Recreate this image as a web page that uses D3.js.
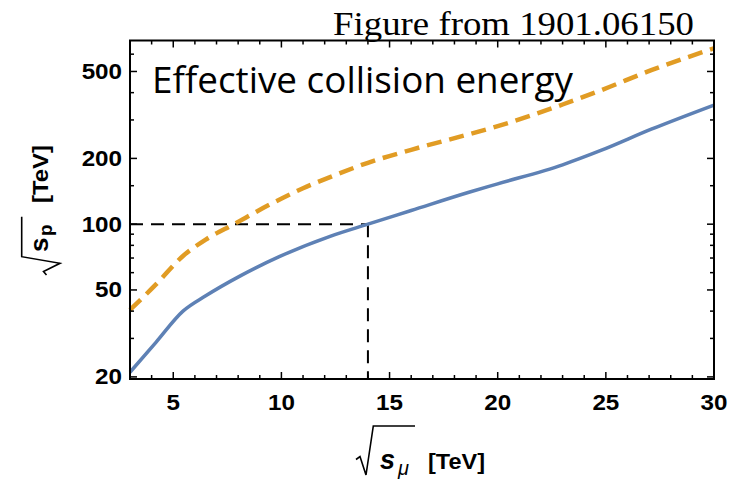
<!DOCTYPE html>
<html>
<head>
<meta charset="utf-8">
<script src="https://cdn.jsdelivr.net/npm/d3@7"></script>
<style>
  body { margin: 0; background: #fff; }
  text { font-family: "Liberation Sans", Arial, sans-serif; }
</style>
</head>
<body>
<div id="chart"></div>
<script>
// values
const xTicks = [5, 10, 15, 20, 25, 30];
const xMinor = [4, 6, 7, 8, 9, 11, 12, 13, 14, 16, 17, 18, 19, 21, 22, 23, 24, 26, 27, 28, 29];
const yTicks = [20, 50, 100, 200, 500];
const yMinor = [30, 40, 60, 70, 80, 90, 150, 300, 400, 600];

// solid blue curve
const blueX = [3, 4.2, 5.45, 6.5, 8.1, 9.9, 12.25, 14, 16, 18.67, 20, 23, 24.8, 27.1, 30];
const blueY = [21, 28.8, 40, 47, 58, 71, 88, 100, 115.5, 140, 153, 187, 218, 272, 351];

// dashed orange curve
const orangeX = [3, 4.2, 5.45, 6.5, 7.8, 9.6, 11, 12.5, 14, 16, 18.67, 20, 23, 24.8, 27.1, 30];
const orangeY = [40.5, 53, 71.5, 85, 100, 125, 146, 168, 191, 219, 258, 281, 353, 411, 507, 638];

// the 14 TeV -> 100 TeV marker
const refX = 14;
const refY = 100;

const width = 738;
const height = 480;
const mLeft = 130, mRight = 714, mTop = 40.5, mBottom = 379;

const svg = d3.select("#chart").append("svg")
    .attr("width", width)
    .attr("height", height);

svg.append("rect").attr("width", width).attr("height", height).attr("fill", "#fff");

const x = d3.scaleLinear().domain([3, 30]).range([mLeft, mRight]);
const y = d3.scaleLog().domain([19.56, 693]).range([mBottom, mTop]);

// text helper, the original is a bit stretched sideways
function label(parent, px, py, str, opts) {
    const g = parent.append("g").attr("transform", `translate(${px},${py})`);
    const t = g.append("text")
        .attr("text-anchor", opts.anchor || "start")
        .attr("font-size", opts.size)
        .attr("font-weight", opts.weight || "normal")
        .attr("font-style", opts.style || "normal")
        .style("font-family", opts.family || null)
        .text(str);
    let sx = opts.sx || 1;
    if (opts.fit) sx = opts.fit / t.node().getComputedTextLength();
    t.attr("transform", `scale(${sx},1)`);
    return g;
}

// reference lines
const ref = svg.append("g")
    .attr("fill", "none")
    .attr("stroke", "#000")
    .attr("stroke-width", 2)
    .attr("stroke-dasharray", "13,8");
ref.append("line")
    .attr("x1", x(3)).attr("x2", x(refX))
    .attr("y1", y(refY)).attr("y2", y(refY));
ref.append("line")
    .attr("x1", x(refX)).attr("x2", x(refX))
    .attr("y1", y(refY)).attr("y2", mBottom);

const line = d3.line()
    .x(d => x(d[0]))
    .y(d => y(d[1]))
    .curve(d3.curveMonotoneX);

svg.append("path")
    .datum(d3.zip(orangeX, orangeY))
    .attr("d", line)
    .attr("fill", "none")
    .attr("stroke", "#e19c24")
    .attr("stroke-width", 4.5)
    .attr("stroke-dasharray", "15,8");

svg.append("path")
    .datum(d3.zip(blueX, blueY))
    .attr("d", line)
    .attr("fill", "none")
    .attr("stroke", "#5e81b5")
    .attr("stroke-width", 3.5);

// frame and inward ticks on all four sides
const ticks = svg.append("g").attr("stroke", "#000").attr("stroke-width", 1.5);
function xTick(v, len) {
    ticks.append("line").attr("x1", x(v)).attr("x2", x(v)).attr("y1", mBottom).attr("y2", mBottom - len);
    ticks.append("line").attr("x1", x(v)).attr("x2", x(v)).attr("y1", mTop).attr("y2", mTop + len);
}
function yTick(v, len) {
    ticks.append("line").attr("y1", y(v)).attr("y2", y(v)).attr("x1", mLeft).attr("x2", mLeft + len);
    ticks.append("line").attr("y1", y(v)).attr("y2", y(v)).attr("x1", mRight).attr("x2", mRight - len);
}
xTicks.forEach(v => xTick(v, 7));
xMinor.forEach(v => xTick(v, 4));
yTicks.forEach(v => yTick(v, 7));
yMinor.forEach(v => yTick(v, 4));

svg.append("rect")
    .attr("x", mLeft).attr("y", mTop)
    .attr("width", mRight - mLeft).attr("height", mBottom - mTop)
    .attr("fill", "none")
    .attr("stroke", "#000")
    .attr("stroke-width", 2);

// tick labels
xTicks.forEach(v => label(svg, x(v), 410, v, {anchor: "middle", size: 22, weight: "bold", sx: 1.1}));
yTicks.forEach(v => label(svg, 122, y(v) + 7.5, v, {anchor: "end", size: 22, weight: "bold", sx: 1.1}));

// x axis title: sqrt(s_mu) [TeV]
svg.append("path")
    .attr("d", "M356,459.5 L360,456.5 L366,475 L373.3,426 L415,426")
    .attr("fill", "none")
    .attr("stroke", "#000")
    .attr("stroke-width", 1.6);
label(svg, 380, 469, "s", {size: 27, weight: "bold", style: "italic"});
label(svg, 398, 475, "μ", {size: 20, style: "italic"});
label(svg, 428, 469, "[TeV]", {size: 22, weight: "bold", fit: 57});

// y axis title, rotated
const yt = svg.append("g").attr("transform", "translate(48,275) rotate(-90)");
yt.append("path")
    .attr("d", "M0,-1.5 L3.5,-4.5 L11.7,12 L18.3,-26.3 L58.3,-26.3")
    .attr("fill", "none")
    .attr("stroke", "#000")
    .attr("stroke-width", 1.6);
label(yt, 23, 0, "s", {size: 26, weight: "bold"});
label(yt, 39, 4, "p", {size: 19, weight: "bold"});
label(yt, 72, 0, "[TeV]", {size: 22, weight: "bold", fit: 58});

// texts on the figure
label(svg, 152, 92.7, "Effective collision energy", {size: 36.5, family: "'Open Sans', sans-serif", fit: 421});
label(svg, 694, 35, "Figure from 1901.06150", {anchor: "end", size: 33.5, family: "'Liberation Serif', 'Times New Roman', serif", fit: 361});
</script>
</body>
</html>
